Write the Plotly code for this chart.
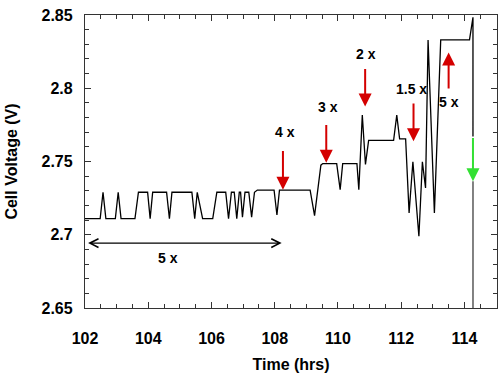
import plotly.graph_objects as go

# Trace data (time in hrs, cell voltage in V)
time_hrs = [102.00, 102.48, 102.57, 102.66, 102.96, 103.05, 103.14, 103.58, 103.69,
            103.98, 104.06, 104.14, 104.58, 104.67, 104.75, 105.38, 105.47, 105.55,
            105.72, 106.04, 106.17, 106.45, 106.54, 106.63, 106.72, 106.80, 106.88,
            106.92, 106.98, 107.06, 107.18, 107.27, 107.36, 107.45, 107.98, 108.07,
            108.15, 109.12, 109.26, 109.46, 109.52, 109.96, 110.07, 110.15, 110.60,
            110.66, 110.77, 110.87, 110.97, 111.76, 111.86, 111.95, 112.14, 112.25,
            112.37, 112.56, 112.67, 112.77, 112.85, 113.05, 113.25, 114.16, 114.27,
            114.27]
voltage = [2.711, 2.711, 2.729, 2.711, 2.711, 2.729, 2.711, 2.711, 2.729,
           2.729, 2.711, 2.729, 2.729, 2.711, 2.729, 2.729, 2.711, 2.729,
           2.711, 2.711, 2.729, 2.729, 2.711, 2.729, 2.729, 2.711, 2.729,
           2.729, 2.712, 2.729, 2.729, 2.712, 2.729, 2.7305, 2.7305, 2.7135,
           2.7305, 2.7305, 2.713, 2.7475, 2.7486, 2.7486, 2.7308, 2.7486, 2.7486,
           2.7308, 2.7817, 2.748, 2.7644, 2.7644, 2.7817, 2.7655, 2.7655, 2.7149,
           2.7498, 2.699, 2.7498, 2.732, 2.833, 2.7149, 2.833, 2.833, 2.8484,
           2.767]

# Continuation of the final drop (grey) below the green arrow
drop_time = [114.27, 114.27]
drop_voltage = [2.7365, 2.64]

# Red marker arrows: label, x, tail V, tip V, label x, label V
red_labels = ["4 x", "3 x", "2 x", "1.5 x", "5 x"]
red_x = [108.26, 109.63, 110.86, 112.39, 113.50]
red_tail = [2.7582, 2.7760, 2.8142, 2.7906, 2.7988]
red_tip = [2.7308, 2.7491, 2.7875, 2.7639, 2.8244]
red_label_x = [108.33, 109.70, 110.89, 112.34, 113.52]
red_label_v = [2.7700, 2.7872, 2.8233, 2.7998, 2.7904]

# Green arrow
green_x = 114.27
green_tail = 2.767
green_tip = 2.7365

# Black double-headed span arrow
span_start = 102.05
span_end = 108.22
span_v = 2.6943
span_label = "5 x"
span_label_x = 104.64
span_label_v = 2.684

x_ticks = [102, 104, 106, 108, 110, 112, 114]
y_ticks = [2.65, 2.7, 2.75, 2.8, 2.85]
y_tick_text = ["2.65", "2.7", "2.75", "2.8", "2.85"]

FONT = "Liberation Sans, Arial, sans-serif"

fig = go.Figure()
fig.add_trace(go.Scatter(x=time_hrs, y=voltage, mode="lines",
                         line=dict(color="black", width=1.3), showlegend=False,
                         hoverinfo="skip"))
fig.add_trace(go.Scatter(x=drop_time, y=drop_voltage, mode="lines",
                         line=dict(color="#808080", width=2), showlegend=False,
                         hoverinfo="skip"))

annotations = []
for lab, x, t0, t1, lx, lv in zip(red_labels, red_x, red_tail, red_tip, red_label_x, red_label_v):
    annotations.append(dict(x=x, y=t1, ax=x, ay=t0, xref="x", yref="y", axref="x", ayref="y",
                            showarrow=True, arrowhead=2, arrowsize=1.3, arrowwidth=2,
                            arrowcolor="#d40000", text=""))
    annotations.append(dict(x=lx, y=lv, xref="x", yref="y", text=lab, showarrow=False,
                            font=dict(family=FONT, size=14, color="black", weight="bold")))

annotations.append(dict(x=green_x, y=green_tip, ax=green_x, ay=green_tail, xref="x", yref="y",
                        axref="x", ayref="y", showarrow=True, arrowhead=2, arrowsize=1.3,
                        arrowwidth=2, arrowcolor="#33e033", text=""))
annotations.append(dict(x=span_end, y=span_v, ax=span_start, ay=span_v, xref="x", yref="y",
                        axref="x", ayref="y", showarrow=True, arrowhead=5, startarrowhead=5,
                        arrowside="end+start", arrowsize=1.4, startarrowsize=1.4,
                        arrowwidth=1.2, arrowcolor="black", text=""))
annotations.append(dict(x=span_label_x, y=span_label_v, xref="x", yref="y", text=span_label,
                        showarrow=False,
                        font=dict(family=FONT, size=14, color="black", weight="bold")))

axis_common = dict(showline=True, linecolor="#333333", linewidth=1.3, mirror="ticks",
                   ticks="inside", ticklen=6, tickwidth=1.2, tickcolor="#333333",
                   showgrid=False, zeroline=False, automargin=False,
                   tickfont=dict(family=FONT, size=16, color="black", weight="bold"))

fig.update_layout(
    width=500, height=373,
    margin=dict(l=85, r=3, t=15, b=65),
    paper_bgcolor="white", plot_bgcolor="white",
    annotations=annotations,
    xaxis=dict(range=[102, 115.03], tickvals=x_ticks, ticklabelstandoff=16,
               minor=dict(dtick=0.5, ticklen=4, ticks="inside", tickcolor="#333333"),
               title=dict(text="Time (hrs)", standoff=12,
                          font=dict(family=FONT, size=16, color="black", weight="bold")),
               **axis_common),
    yaxis=dict(range=[2.65, 2.85], tickvals=y_ticks, ticktext=y_tick_text,
               ticklabelstandoff=8,
               minor=dict(dtick=0.01, ticklen=4, ticks="inside", tickcolor="#333333"),
               title=dict(text="Cell Voltage (V)", standoff=19,
                          font=dict(family=FONT, size=16, color="black", weight="bold")),
               **axis_common),
)

fig.write_html("out.html", config={"displayModeBar": False},
               post_script="document.body.style.margin='0';")
